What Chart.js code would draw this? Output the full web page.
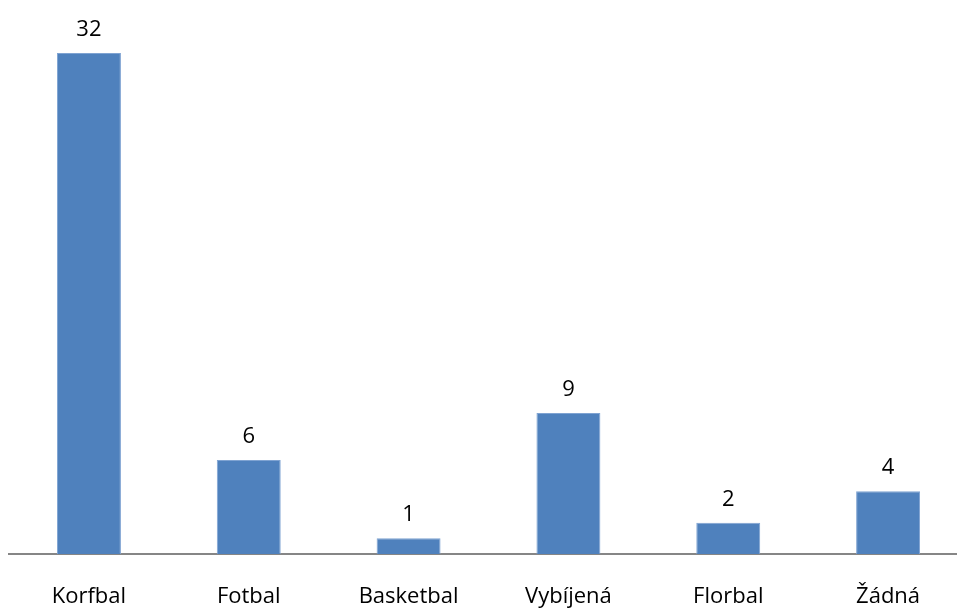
<!DOCTYPE html>
<html>
<head>
<meta charset="utf-8">
<script src="https://cdn.jsdelivr.net/npm/chart.js@4/dist/chart.umd.min.js"></script>
<style>
  html, body { margin: 0; padding: 0; background: #fff; overflow: hidden; }
  #wrap { width: 968px; height: 610px; }
</style>
</head>
<body>
<div id="wrap"><canvas id="sportChart"></canvas></div>
<script>
// Sports
const categories = ['Korfbal', 'Fotbal', 'Basketbal', 'Vybíjená', 'Florbal', 'Žádná'];
const counts = [32, 6, 1, 9, 2, 4];

// Value labels above each bar
const valueLabels = {
    id: 'valueLabels',
    afterDatasetsDraw(chart) {
        const ctx = chart.ctx;
        const meta = chart.getDatasetMeta(0);
        ctx.save();
        ctx.font = '22px "Open Sans"';
        ctx.fillStyle = '#000';
        ctx.textAlign = 'center';
        ctx.textBaseline = 'alphabetic';
        meta.data.forEach((bar, i) => {
            ctx.fillText(String(counts[i]), bar.x, bar.y - 17);
        });
        ctx.restore();
    }
};

const ctx = document.getElementById('sportChart').getContext('2d');
new Chart(ctx, {
    type: 'bar',
    data: {
        labels: categories,
        datasets: [{
            data: counts,
            backgroundColor: '#4F81BD',
            borderColor: '#7FA3D2',
            borderWidth: { left: 1, right: 1, top: 1, bottom: 0 },
            categoryPercentage: 1,
            barPercentage: 0.4
        }]
    },
    options: {
        responsive: true,
        maintainAspectRatio: false,
        animation: false,
        layout: { padding: { left: 9, right: 0, top: 6, bottom: 0 } },
        plugins: {
            legend: { display: false },
            tooltip: { enabled: false }
        },
        scales: {
            x: {
                grid: { display: false, drawTicks: false },
                border: { display: true, color: '#868686', width: 2 },
                ticks: {
                    color: '#000',
                    padding: 30,
                    font: { family: '"Open Sans"', size: 22 }
                },
                afterFit(scale) { scale.height = 56; }
            },
            y: {
                display: false,
                min: 0,
                max: 35
            }
        }
    },
    plugins: [valueLabels]
});
</script>
</body>
</html>
